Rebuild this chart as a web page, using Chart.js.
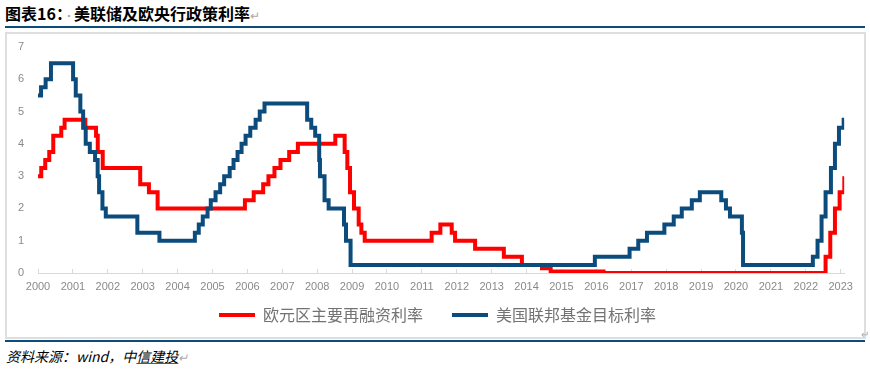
<!DOCTYPE html>
<html>
<head>
<meta charset="utf-8">
<script src="https://cdn.jsdelivr.net/npm/chart.js@4.4.0/dist/chart.umd.min.js"></script>
<style>
  html, body { margin: 0; padding: 0; background: #fff; }
  body { width: 870px; height: 369px; position: relative; overflow: hidden; font-family: "Noto Sans CJK SC", sans-serif; }
  #title { position: absolute; left: 5px; top: 2px; font-size: 16px; font-weight: bold; color: #000; line-height: 22px; white-space: nowrap; }
  #title .dot { color: #999; font-weight: normal; font-size: 10px; }
  .ret { color: #aaa; font-weight: normal; font-size: 12px; }
  #topline { position: absolute; left: 5px; top: 26px; width: 860px; height: 2px; background: #0b4c7d; }
  #frame { position: absolute; left: 5px; top: 32px; width: 857px; height: 303px; border: 2px solid #dedede; }
  #wrap { position: absolute; left: 6px; top: 34px; width: 858px; height: 302px; }
  #botline { position: absolute; left: 5px; top: 340px; width: 860px; height: 2px; background: #0b4c7d; }
  #source { position: absolute; left: 6px; top: 346px; font-size: 14px; font-style: italic; color: #000; line-height: 20px; white-space: nowrap; font-family: "Noto Sans CJK SC", serif; }
  #source u { text-decoration-color: #2060d0; }
  #cornerret { position: absolute; left: 861px; top: 326px; font-size: 10px; color: #aaa; }
</style>
</head>
<body>
<div id="title">图表16：<span class="dot">·</span>美联储及欧央行政策利率<span class="ret">↵</span></div>
<div id="topline"></div>
<div id="frame"></div>
<div id="wrap"><canvas id="c" width="858" height="302"></canvas></div>
<div id="cornerret">↵</div>
<div id="botline"></div>
<div id="source">资料来源：wind，中<u>信建投</u><span class="ret">↵</span></div>
<script>
// ---- Data ----
const yearTicks = [2000,2001,2002,2003,2004,2005,2006,2007,2008,2009,2010,2011,2012,2013,2014,2015,2016,2017,2018,2019,2020,2021,2022,2023];
const seriesNames = ['欧元区主要再融资利率', '美国联邦基金目标利率'];

const ecbDates = ['2000-01-01','2000-02-04','2000-03-17','2000-04-28','2000-06-09','2000-09-01','2000-10-06','2001-05-11','2001-08-31','2001-09-18','2001-11-09','2002-12-06','2003-03-07','2003-06-06','2005-12-06','2006-03-08','2006-06-15','2006-08-09','2006-10-11','2006-12-13','2007-03-14','2007-06-13','2008-07-09','2008-10-15','2008-11-12','2008-12-10','2009-01-21','2009-03-11','2009-04-08','2009-05-13','2011-04-13','2011-07-13','2011-11-09','2011-12-14','2012-07-11','2013-05-08','2013-11-13','2014-06-11','2014-09-10','2016-03-16','2022-07-27','2022-09-14','2022-11-02','2022-12-21','2023-02-08','2023-02-10'];
const ecbRates = [3.0,3.25,3.5,3.75,4.25,4.5,4.75,4.5,4.25,3.75,3.25,2.75,2.5,2.0,2.25,2.5,2.75,3.0,3.25,3.5,3.75,4.0,4.25,3.75,3.25,2.5,2.0,1.5,1.25,1.0,1.25,1.5,1.25,1.0,0.75,0.5,0.25,0.15,0.05,0.0,0.5,1.25,2.0,2.5,3.0,3.0];

const fedDates = ['2000-01-01','2000-02-02','2000-03-21','2000-05-16','2001-01-03','2001-01-31','2001-03-20','2001-04-18','2001-05-15','2001-06-27','2001-08-21','2001-09-17','2001-10-02','2001-11-06','2001-12-11','2002-11-06','2003-06-25','2004-06-30','2004-08-10','2004-09-21','2004-11-10','2004-12-14','2005-02-02','2005-03-22','2005-05-03','2005-06-30','2005-08-09','2005-09-20','2005-11-01','2005-12-13','2006-01-31','2006-03-28','2006-05-10','2006-06-29','2007-09-18','2007-10-31','2007-12-11','2008-01-22','2008-01-30','2008-03-18','2008-04-30','2008-10-08','2008-10-29','2008-12-16','2015-12-16','2016-12-14','2017-03-15','2017-06-14','2017-12-13','2018-03-21','2018-06-13','2018-09-26','2018-12-19','2019-07-31','2019-09-18','2019-10-30','2020-03-03','2020-03-15','2022-03-16','2022-05-04','2022-06-15','2022-07-27','2022-09-21','2022-11-02','2022-12-14','2023-02-01','2023-02-10'];
const fedRates = [5.5,5.75,6.0,6.5,6.0,5.5,5.0,4.5,4.0,3.75,3.5,3.0,2.5,2.0,1.75,1.25,1.0,1.25,1.5,1.75,2.0,2.25,2.5,2.75,3.0,3.25,3.5,3.75,4.0,4.25,4.5,4.75,5.0,5.25,4.75,4.5,4.25,3.5,3.0,2.25,2.0,1.5,1.0,0.25,0.5,0.75,1.0,1.25,1.5,1.75,2.0,2.25,2.5,2.25,2.0,1.75,1.25,0.25,0.5,1.0,1.75,2.5,3.25,4.0,4.5,4.75,4.75];

// ---- Helpers ----
function toYear(s) {
  const [y, m, d] = s.split('-').map(Number);
  const start = Date.UTC(y, 0, 1), end = Date.UTC(y + 1, 0, 1);
  return y + (Date.UTC(y, m - 1, d) - start) / (end - start);
}
function pts(dates, vals) { return dates.map((d, i) => ({ x: toYear(d), y: vals[i] })); }

const RED = '#ff0000', BLUE = '#0b4c7d';
const tickColor = '#8a8a8a';
const LEGEND_SHIFT = 17;
const LEGEND_NUDGE_X = 6;

// Legend uses a wide horizontal item gap; pull it up so it sits closer to the axis labels.
const legendTweak = {
  id: 'legendTweak',
  beforeLayout(chart) {
    const lg = chart.legend;
    if (lg && !lg.__patched) {
      const origFit = lg.fit;
      lg.fit = function () { origFit.call(this); this.height = Math.max(0, this.height - LEGEND_SHIFT); };
      lg.__patched = true;
    }
  },
  afterLayout(chart) {
    const lg = chart.legend;
    if (lg) {
      lg.top -= LEGEND_SHIFT; lg.height += LEGEND_SHIFT;
      lg.left += LEGEND_NUDGE_X; lg.right += LEGEND_NUDGE_X;
    }
  }
};

new Chart(document.getElementById('c'), {
  type: 'line',
  data: {
    datasets: [
      { label: seriesNames[0], data: pts(ecbDates, ecbRates), borderColor: RED, backgroundColor: RED, borderWidth: 4, stepped: 'before', pointRadius: 0, order: 2, borderJoinStyle: 'miter' },
      { label: seriesNames[1], data: pts(fedDates, fedRates), borderColor: BLUE, backgroundColor: BLUE, borderWidth: 4, stepped: 'before', pointRadius: 0, order: 1, borderJoinStyle: 'miter' }
    ]
  },
  plugins: [legendTweak],
  options: {
    responsive: false,
    devicePixelRatio: 1,
    animation: false,
    events: [],
    layout: { padding: { left: 12, right: 19, top: 13, bottom: 3 } },
    plugins: {
      tooltip: { enabled: false },
      legend: {
        position: 'bottom',
        labels: {
          sort: (a, b) => a.datasetIndex - b.datasetIndex,
          boxWidth: 36, boxHeight: 4, padding: 29,
          color: '#737373',
          font: { family: '"Noto Sans CJK SC"', size: 16 },
          generateLabels: (chart) => {
            const items = Chart.defaults.plugins.legend.labels.generateLabels(chart);
            items.forEach(it => { it.lineWidth = 0; it.strokeStyle = it.fillStyle; });
            return items;
          }
        }
      }
    },
    scales: {
      x: {
        type: 'linear', min: 2000, max: 2023.1,
        afterBuildTicks: (s) => { s.ticks = yearTicks.map(v => ({ value: v })); },
        afterFit: (s) => { s.height = 22; },
        ticks: { autoSkip: false, maxRotation: 0, color: tickColor, font: { family: '"Liberation Sans", sans-serif', size: 11 }, callback: (v) => String(v), padding: 11 },
        grid: { drawOnChartArea: false, color: '#d9d9d9', tickLength: -4 },
        border: { color: '#d9d9d9', width: 1 }
      },
      y: {
        min: 0, max: 7,
        afterFit: (s) => { s.width = 20; },
        ticks: { stepSize: 1, color: tickColor, font: { family: '"Liberation Sans", sans-serif', size: 11 }, padding: 0, crossAlign: 'far' },
        grid: { display: false, drawTicks: false },
        border: { display: false }
      }
    }
  }
});
</script>
</body>
</html>
